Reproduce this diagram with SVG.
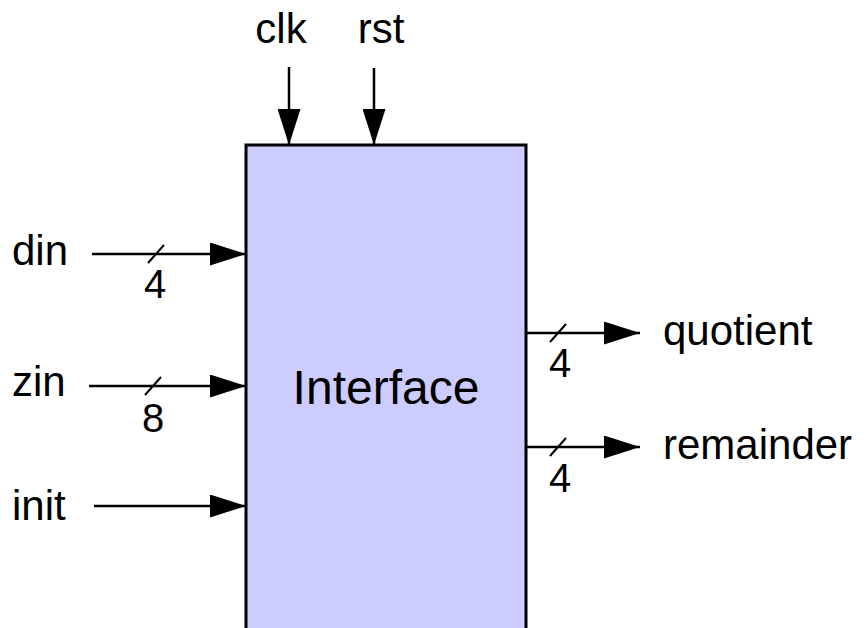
<svg xmlns="http://www.w3.org/2000/svg" width="866" height="628" viewBox="0 0 866 628">
<defs>
<marker id="ah" markerWidth="36" markerHeight="23" refX="36" refY="11.5" orient="auto" markerUnits="userSpaceOnUse">
<path d="M0,0 L36,11.5 L0,23 Z" fill="#000"/>
</marker>
<style>
.t{font-family:"Liberation Sans",Arial,sans-serif;font-size:42px;fill:#000}
.n{font-family:"Liberation Sans",Arial,sans-serif;font-size:40px;fill:#000;text-anchor:middle}
.w{stroke:#000;stroke-width:2.5;fill:none}
.s{stroke:#000;stroke-width:2;fill:none}
</style>
</defs>
<rect width="866" height="628" fill="#fff"/>
<g id="interface">
<rect x="246" y="145" width="280" height="500" fill="#ccccff" stroke="#000" stroke-width="3"/>
<text x="386" y="404" class="t" text-anchor="middle" style="font-size:48px">Interface</text>
</g>
<g id="labels">
<text x="281" y="43" class="t" text-anchor="middle">clk</text>
<text x="381" y="43" class="t" text-anchor="middle">rst</text>
<text x="12" y="265" class="t">din</text>
<text x="12" y="396" class="t">zin</text>
<text x="12" y="520" class="t">init</text>
<text x="663" y="345" class="t">quotient</text>
<text x="663" y="459" class="t">remainder</text>
<text x="155" y="298" class="n">4</text>
<text x="153" y="432" class="n">8</text>
<text x="560" y="377" class="n">4</text>
<text x="560" y="492" class="n">4</text>
</g>
<g id="connectors">
<line x1="289" y1="67" x2="289" y2="145" class="w" marker-end="url(#ah)"/>
<line x1="374" y1="68" x2="374" y2="145" class="w" marker-end="url(#ah)"/>
<line x1="92" y1="254" x2="246" y2="254" class="w" marker-end="url(#ah)"/>
<line x1="89" y1="386" x2="246" y2="386" class="w" marker-end="url(#ah)"/>
<line x1="94" y1="506" x2="246" y2="506" class="w" marker-end="url(#ah)"/>
<line x1="526" y1="333" x2="640" y2="333" class="w" marker-end="url(#ah)"/>
<line x1="526" y1="447" x2="640" y2="447" class="w" marker-end="url(#ah)"/>
<line x1="148" y1="263" x2="164" y2="245" class="s"/>
<line x1="145" y1="395" x2="161" y2="377" class="s"/>
<line x1="550" y1="342" x2="566" y2="324" class="s"/>
<line x1="550" y1="456" x2="566" y2="438" class="s"/>
</g>
</svg>
